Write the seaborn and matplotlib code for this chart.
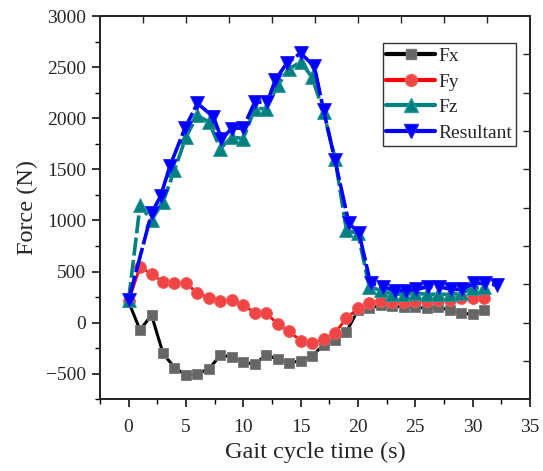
import numpy as np
import pandas as pd
import matplotlib
matplotlib.use("Agg")
import matplotlib.pyplot as plt
from matplotlib.lines import Line2D
import seaborn as sns

# ---- data ----
t_xyz = list(range(0, 32))
fx = [205, -71, 75, -299, -439, -511, -501, -452, -318, -332, -387, -406, -315, -357, -391, -374,
      -325, -218, -169, -88, 124, 141, 173, 163, 156, 153, 141, 150, 124, 92, 85, 124]
fy = [210, 547, 476, 400, 385, 385, 293, 244, 212, 222, 173, 98, 98, -16, -81, -176,
      -201, -162, -98, 43, 141, 189, 212, 205, 205, 212, 212, 222, 222, 238, 238, 244]
fz = [222, 1149, 1003, 1182, 1491, 1816, 2028, 1963, 1703, 1816, 1801, 2094, 2094, 2321, 2484, 2549,
      2402, 2061, 1605, 905, 873, 346, 319, 280, 280, 287, 280, 278, 278, 287, 336, 352]
t_res = [0, 2.0, 2.8, 3.6, 4.9, 6.0, 7.4, 8.1, 9.0, 10.0, 11.0, 12.1, 12.8, 13.8, 15.0, 16.2,
         17.0, 18.0, 19.2, 20.1, 21.1, 22.2, 23.2, 24.2, 25.1, 26.1, 27.1, 28.1, 29.1, 30.1, 31.1, 32.1]
res = [220, 1070, 1240, 1530, 1900, 2145, 2015, 1800, 1898, 1908, 2158, 2158, 2377, 2539, 2637, 2507,
       2077, 1589, 977, 873, 385, 352, 313, 313, 326, 352, 352, 326, 326, 385, 385, 368]

series_names = ["Fx", "Fy", "Fz", "Resultant"]
x_ticks = [0, 5, 10, 15, 20, 25, 30, 35]
y_ticks = [-500, 0, 500, 1000, 1500, 2000, 2500, 3000]

sns.set_style("ticks")
plt.rcParams["font.family"] = ["Liberation Serif", "DejaVu Serif"]
plt.rcParams["mathtext.fontset"] = "stix"

fig = plt.figure(figsize=(5.43, 4.71), dpi=100)
ax = fig.add_axes([0.184, 0.152, 0.792, 0.814])

styles = {
    "Fx": dict(color="black", marker="s", mfc="#666666", mec="#777777", ms=7.2, lw=2.2, ls="-"),
    "Fy": dict(color="red", marker="o", mfc="#F04545", mec="#F06060", ms=8.6, lw=2.0, ls="-"),
    "Fz": dict(color="#008080", marker="^", mfc="#008080", mec="#2A9A9A", ms=9.5, lw=2.6, ls=(0, (5, 1.2))),
    "Resultant": dict(color="#0000FF", marker="v", mfc="#0000FF", mec="#2020FF", ms=9.5, lw=2.6, ls=(0, (7, 1))),
}
data = {
    "Fx": (t_xyz, fx),
    "Fy": (t_xyz, fy),
    "Fz": (t_xyz, fz),
    "Resultant": (t_res, res),
}

for name in series_names:
    xs, ys = data[name]
    st = styles[name]
    sns.lineplot(x=xs, y=ys, ax=ax, color=st["color"], linewidth=st["lw"], linestyle=st["ls"],
                 marker=st["marker"], markersize=st["ms"], markerfacecolor=st["mfc"],
                 markeredgecolor=st["mec"], markeredgewidth=0.6, sort=False, estimator=None,
                 legend=False)
    ax.lines[-1].set_linestyle(st["ls"])

ax.set_xlim(-2.5, 35)
ax.set_ylim(-740, 3000)
ax.set_xticks(x_ticks)
ax.set_yticks(y_ticks)
ax.set_xticks(np.arange(-2.5, 35.1, 2.5), minor=True)
ax.set_yticks(np.arange(-750, 3001, 250), minor=True)
ax.tick_params(axis="both", which="major", direction="out", length=6, width=1.1, labelsize=14, color="black")
ax.tick_params(axis="x", which="major", pad=8)
ax.tick_params(axis="y", which="major", pad=4)
ax.tick_params(axis="both", which="minor", direction="out", length=3.5, width=1.0, color="black")
ax.tick_params(top=False, right=False, which="both")
ax.set_xlabel("Gait cycle time (s)", fontsize=17.5, labelpad=4)
ax.set_ylabel("Force (N)", fontsize=17.5, labelpad=6)
for sp in ax.spines.values():
    sp.set_linewidth(1.2)
    sp.set_color("black")

# mirror ticks on top and right (inward, 10 equal divisions)
axt = ax.twiny()
axt.set_xlim(0, 1)
axt.set_xticks(np.arange(0.1, 0.95, 0.1))
axt.tick_params(axis="x", direction="in", length=5, width=1.0, labeltop=False)
axr = ax.twinx()
axr.set_ylim(0, 1)
axr.set_yticks(np.arange(0.1, 0.95, 0.1))
axr.tick_params(axis="y", direction="in", length=5, width=1.0, labelright=False)
for a in (axt, axr):
    for sp in a.spines.values():
        sp.set_linewidth(1.2)

handles = []
for name in series_names:
    st = styles[name]
    handles.append(Line2D([0], [0], color=st["color"], lw=3, ls="-", marker=st["marker"],
                          markersize=st["ms"], markerfacecolor=st["mfc"], markeredgecolor=st["mec"]))
leg = axr.legend(handles, series_names, loc="upper right", bbox_to_anchor=(0.967, 0.929),
                 borderaxespad=0, fontsize=14, frameon=True, fancybox=False, handlelength=2.5,
                 handletextpad=0.15, labelspacing=0.42, borderpad=0.2)
leg.get_frame().set_edgecolor("black")
leg.get_frame().set_linewidth(1.0)

fig.savefig("out.png", dpi=100)
